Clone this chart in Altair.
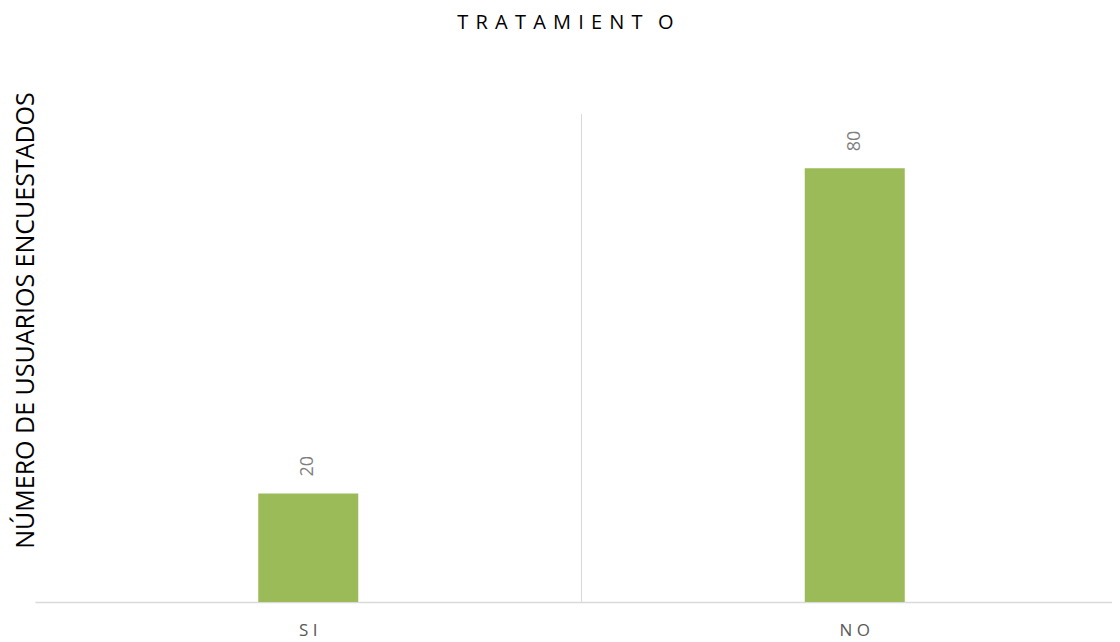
import altair as alt
import pandas as pd

categories = ["SI", "NO"]
values = [20, 80]
title_text = "\u00a0\u200a".join(list("TRATAMIENT")) + "\u00a0\u00a0\u00a0O"
y_title = "NÚMERO DE USUARIOS ENCUESTADOS"

df = pd.DataFrame({"cat": categories, "val": values})
grid_df = pd.DataFrame({"cat": [categories[1]]})
FONT = "Open Sans"

x_scale = alt.Scale(domain=categories, paddingInner=0, paddingOuter=0, range=[0, 1093])

x_enc = alt.X("cat:N", sort=categories, scale=x_scale,
              axis=alt.Axis(title=None, labels=False, ticks=False, grid=False,
                            domainColor="#D9D9D9", domainWidth=1.5))
y_enc = alt.Y("val:Q", scale=alt.Scale(domain=[0, 90], nice=False),
              axis=alt.Axis(title=y_title, labels=False, ticks=False, domain=False, grid=False,
                            titleFont=FONT, titleFontSize=25, titleFontWeight="normal",
                            titleColor="#000000", titleAngle=-90, titleAlign="center",
                            titleBaseline="alphabetic", titleX=-2, titleY=206))

bars = alt.Chart(df).mark_bar(color="#9BBB59", size=100).encode(x=x_enc, y=y_enc)

labels = alt.Chart(df).mark_text(angle=270, align="left", baseline="middle", dx=17,
                                 font=FONT, fontSize=18, color="#7F7F7F").encode(
    x=alt.X("cat:N", sort=categories, scale=x_scale), y="val:Q", text="val:Q")

cat_labels = alt.Chart(df).transform_calculate(
    lab="join(split(datum.cat, ''), '\u00a0')"
).mark_text(align="center", baseline="alphabetic", dy=34, font=FONT, fontSize=17,
            color="#595959").encode(
    x=alt.X("cat:N", sort=categories, scale=x_scale), y=alt.value(488), text="lab:N")

grid = alt.Chart(grid_df).mark_rule(color="#D9D9D9", strokeWidth=1).encode(
    x=alt.X("cat:N", bandPosition=0, sort=categories, scale=x_scale),
    y=alt.value(0), y2=alt.value(488))

chart = alt.layer(grid, bars, labels, cat_labels).properties(
    width=1077, height=488,
    title=alt.TitleParams(title_text, font=FONT, fontSize=20, fontWeight="normal",
                          color="#000000", anchor="middle", frame="group", offset=59, dx=-8),
    autosize=alt.AutoSizeParams(type="none"),
    padding={"left": 27, "top": 106, "right": 0, "bottom": 38},
).configure_view(stroke=None)

chart.save("out.html", embed_options={"renderer": "svg", "actions": False})
